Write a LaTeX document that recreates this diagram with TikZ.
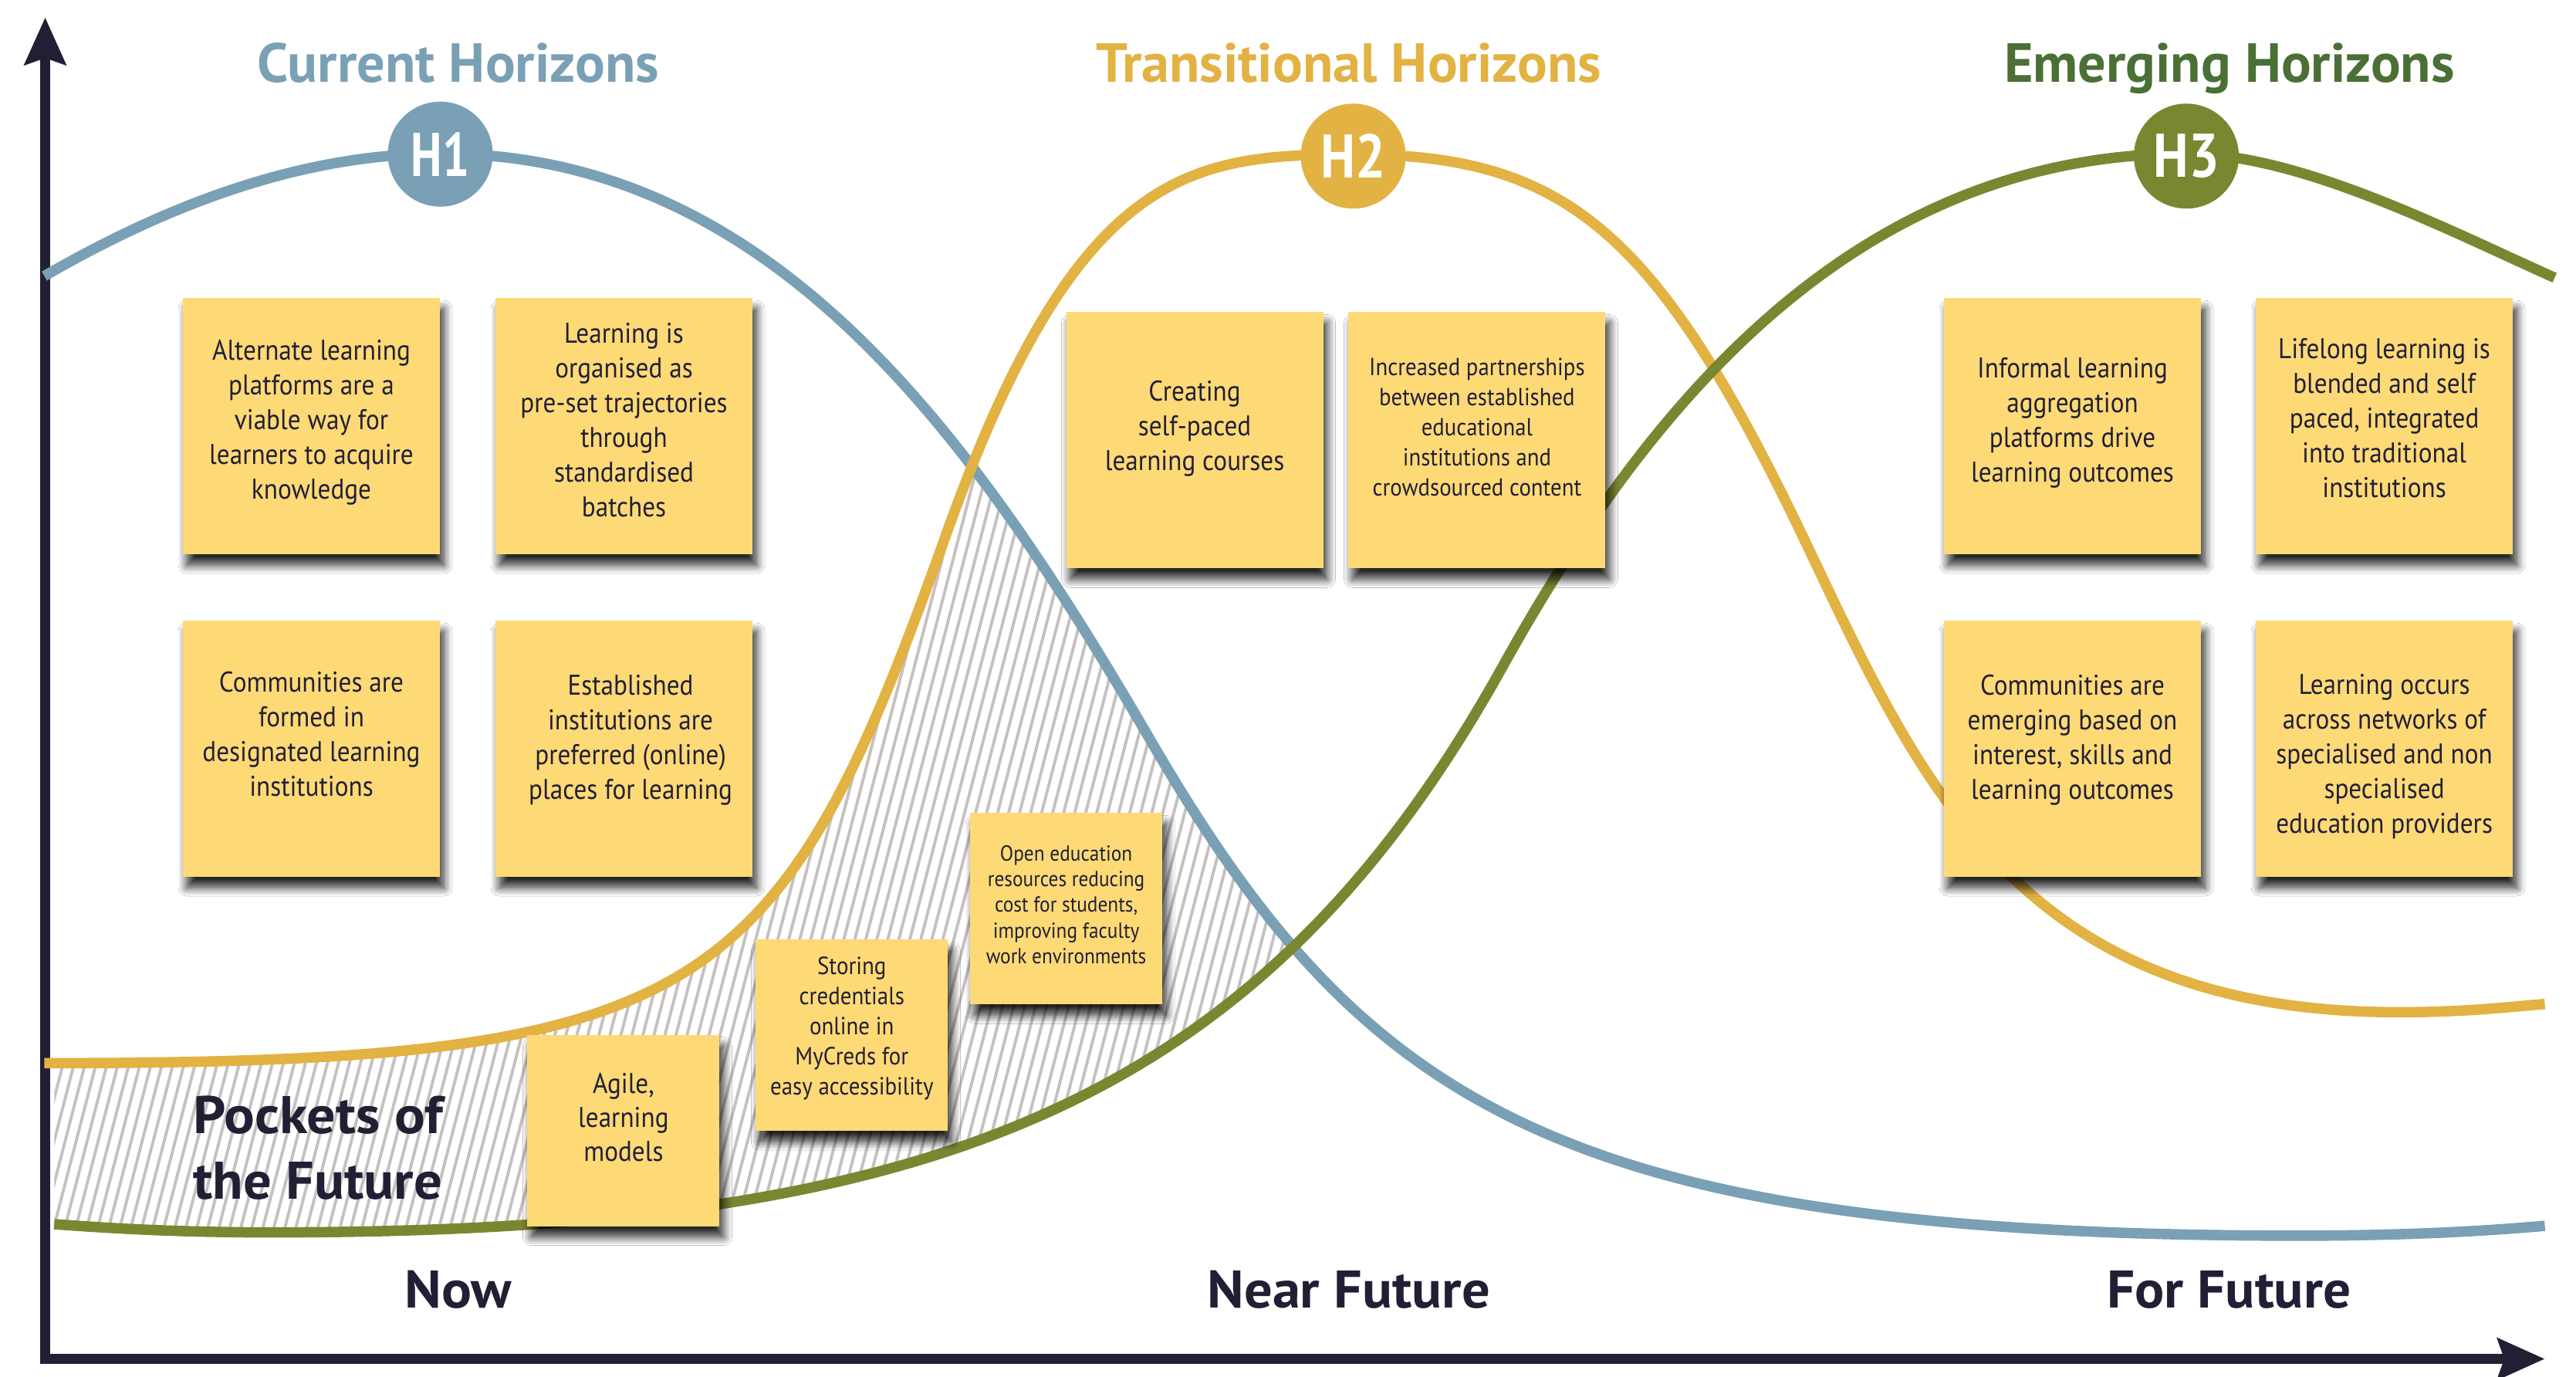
\documentclass[tikz,border=0pt]{standalone}
\usepackage{fontspec}
\setmainfont{PT Sans}[FakeStretch=0.9]
\newfontfamily\hfont{PT Sans}[FakeStretch=0.9]
\usepackage{graphicx}
\usetikzlibrary{arrows.meta,shadows.blur}

\definecolor{hblue}{HTML}{7AA0B5}
\definecolor{hgold}{HTML}{E2B243}
\definecolor{holive}{HTML}{7A8731}
\definecolor{hgreen}{HTML}{4A7035}
\definecolor{notefill}{HTML}{FDDA76}
\definecolor{ink}{HTML}{221F35}
\definecolor{hatchc}{HTML}{C6C0C1}

\newcommand\fitw[2]{\resizebox{#1}{\height}{#2}}
\newcommand\nt[2]{\raisebox{#1}[\height][\depth]{\begin{tabular}{@{}c@{}}#2\end{tabular}}}

\newcommand\bluecurve{(27,168) .. controls (110,120) and (190,93.5) .. (268,93.5) .. controls (468,93.5) and (590,260.8) .. (700,450) .. controls (830,673.6) and (950,752) .. (1400,752) .. controls (1460,752) and (1510,749.5) .. (1549,746)}
\newcommand\goldcurve{(27,647) .. controls (430,647) and (474,610.6) .. (576,325) .. controls (656,101) and (725,94) .. (825,94) .. controls (955,94) and (1010,143) .. (1100,332) .. controls (1170,479) and (1230,616) .. (1460,616) .. controls (1500,616) and (1525,613) .. (1549,611)}
\newcommand\greencurve{(33,745) .. controls (80,748.5) and (120,750) .. (165,750) .. controls (565,750) and (765,675) .. (915,405) .. controls (1005,243) and (1131,93.5) .. (1331,93.5) .. controls (1400,93.5) and (1490,140) .. (1555,169)}

\begin{document}
\begin{tikzpicture}[x=0.021288cm,y=-0.021288cm,
  curve/.style={line width=0.135cm},
  axisline/.style={line width=0.125cm, draw=ink},
  notebox/.style={fill=notefill, text=ink, inner sep=0pt,
    blur shadow={shadow xshift=0.05cm, shadow yshift=-0.14cm, shadow blur radius=0.11cm, shadow blur steps=12, shadow opacity=85}},
  bignote/.style={notebox, minimum width=3.33cm, minimum height=3.32cm, font=\fontsize{10.5}{12.8}\selectfont},
  smallnote/.style={notebox, minimum width=2.49cm, minimum height=2.48cm},
  hcirc/.style={circle, minimum size=1.36cm, inner sep=0pt, text=white, font=\hfont\bfseries\fontsize{22.7}{24}\selectfont},
  htitle/.style={font=\hfont\bfseries\fontsize{20.3}{22}\selectfont, anchor=base, inner sep=0pt},
  timelabel/.style={font=\hfont\bfseries\fontsize{19.5}{21}\selectfont, text=ink, anchor=base, inner sep=0pt},
  pocket/.style={font=\hfont\bfseries\fontsize{19.5}{21}\selectfont, text=ink, anchor=base west, inner sep=0pt}
]
\useasboundingbox[fill=white] (0,0) rectangle (1568,838);

% hatched pocket region
\begin{scope}
  \clip \goldcurve -- (1549,900) -- (0,900) -- cycle;
  \clip \bluecurve -- (1549,900) -- (0,900) -- cycle;
  \clip \greencurve -- (1555,-20) -- (33,-20) -- cycle;
  \foreach \i in {-25,...,125} {
    \draw[hatchc, line width=1.1pt] ({\i*6.7},770) -- ({\i*6.7+141},225);
  }
\end{scope}

% axes
\coordinate (ytop) at (27.5,10.6);
\coordinate (xend) at (1549,827);
\coordinate (ybot) at (27.5,830.2);
\coordinate (xstart) at (24.6,827);
\draw[axisline, -{Stealth[length=0.61cm, width=0.53cm, inset=0.085cm]}] (ybot) -- (ytop);
\draw[axisline, -{Stealth[length=0.61cm, width=0.53cm, inset=0.085cm]}] (xstart) -- (xend);

% curves
\draw[curve, hblue] \bluecurve;
\draw[curve, hgold] \goldcurve;
\draw[curve, holive] \greencurve;

% notes
\node[bignote] (a) at (189.55,259.35) {\nt{0.043cm}{Alternate learning\\platforms are a\\viable way for\\learners to acquire\\knowledge}};
\node[bignote] (b) at (379.8,259.35) {\nt{0.043cm}{Learning is\\organised as\\pre-set trajectories\\through\\standardised\\batches}};
\node[bignote] (c) at (189.55,455.65) {\nt{0.149cm}{Communities are\\formed in\\designated learning\\institutions}};
\node[bignote] (d) at (379.8,455.65) {\nt{0.106cm}{\hspace*{0.17cm}\begin{tabular}{@{}c@{}}Established\\institutions are\\preferred (online)\\places for learning\end{tabular}}};
\node[bignote] (e) at (727.2,267.9) {\nt{0.149cm}{Creating\\self-paced\\learning courses}};
\node[bignote, font=\fontsize{9.1}{11.1}\selectfont] (f) at (899.05,267.9) {\nt{0.138cm}{Increased partnerships\\between established\\educational\\institutions and\\crowdsourced content}};
\node[bignote] (g) at (1261.5,259.3) {\nt{0.043cm}{Informal learning\\aggregation\\platforms drive\\learning outcomes}};
\node[bignote] (h) at (1451.3,259.3) {\nt{0.064cm}{Lifelong learning is\\blended and self\\paced, integrated\\into traditional\\institutions}};
\node[bignote] (i) at (1261.5,455.65) {\nt{0.106cm}{Communities are\\emerging based on\\interest, skills and\\learning outcomes}};
\node[bignote] (j) at (1451.3,455.65) {\nt{-0.106cm}{Learning occurs\\across networks of\\specialised and non\\specialised\\education providers}};
\node[smallnote, font=\fontsize{10.5}{12.5}\selectfont] (k) at (379.5,688) {\nt{0.128cm}{Agile,\\learning\\models}};
\node[smallnote, font=\fontsize{9.15}{11.1}\selectfont] (l) at (518.5,630) {\nt{0.085cm}{Storing\\credentials\\online in\\MyCreds for\\easy accessibility}};
\node[smallnote, font=\fontsize{8}{9.5}\selectfont] (m) at (649,553) {\nt{0.021cm}{Open education\\resources reducing\\cost for students,\\improving faculty\\work environments}};

% horizon markers
\node[hcirc, fill=hblue] (h1) at (268,93.8) {\fitw{21.5pt}{H1}};
\node[hcirc, fill=hgold] (h2) at (823.7,95) {\fitw{24pt}{H2}};
\node[hcirc, fill=holive] (h3) at (1330.8,95) {\fitw{24.3pt}{H3}};

% titles
\node[htitle, text=hblue] (t1) at (278.8,50) {\fitw{148.2pt}{Current Horizons}};
\node[htitle, text=hgold] (t2) at (821,50) {\fitw{186.2pt}{Transitional Horizons}};
\node[htitle, text=hgreen] (t3) at (1357,50) {\fitw{166pt}{Emerging Horizons}};

% time labels
\node[timelabel] (now) at (279,796) {\fitw{39.4pt}{Now}};
\node[timelabel] (near) at (821,796) {\fitw{104.2pt}{Near Future}};
\node[timelabel] (far) at (1356.7,796) {\fitw{90pt}{For Future}};

% pockets label
\node[pocket] (pf1) at (117.4,689.6) {\fitw{92pt}{Pockets of}};
\node[pocket] (pf2) at (117.4,729.6) {\fitw{91.8pt}{the Future}};
\end{tikzpicture}
\end{document}
